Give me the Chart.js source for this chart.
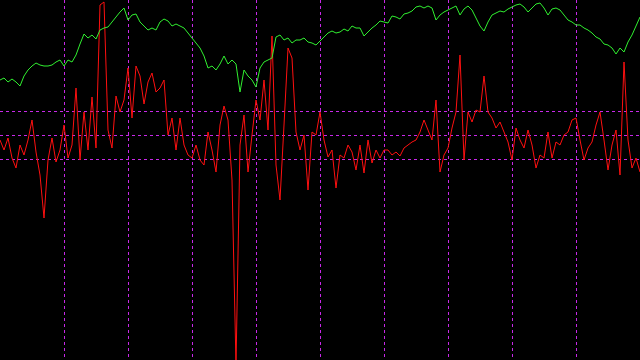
<!DOCTYPE html>
<html>
<head>
<meta charset="utf-8">
<script src="https://cdn.jsdelivr.net/npm/chart.js@4"></script>
<style>
  html, body { margin: 0; padding: 0; background: #000; }
  #wrap { width: 640px; height: 360px; }
</style>
</head>
<body>
<div id="wrap"><canvas id="chartOsc" width="640" height="360"></canvas></div>
<script>
// oscillator (red), one value per bar
const oscValues = [
  -5, -15, -3, -23, -33, -10, -20, -5, 15, -17,
  -40, -83, -25, -3, -27, -15, 10, -23, -10, 47,
  -25, 23, -15, 38, -13, 130, 133, 5, -13, 39,
  23, 35, 67, 17, 69, 59, 31, 53, 62, 43,
  47, 55, 0, 17, -15, 17, -10, -20, -23, -10,
  -25, -30, 3, -15, -37, 10, 29, 15, -45, -230,
  -10, 20, -37, 0, 35, 15, 55, 5, 99, -30,
  -65, 10, 87, 77, 3, -15, 0, -55, 3, 0,
  23, -5, -22, -15, -53, -20, -23, -10, -17, -35,
  -10, -38, -5, -28, -15, -23, -15, -15, -20, -17,
  -21, -13, -10, -7, -5, 3, 15, 5, -5, 35,
  -37, -20, -13, 7, 23, 80, -25, 23, 13, 25,
  23, 59, 23, 17, 7, 13, 3, -7, -25, 7,
  -5, -13, 5, -10, -33, -20, -23, 3, -23, -7,
  -10, 0, 3, 15, 17, -5, -25, -13, -7, 10,
  23, -5, -35, -10, 5, -40, 73, -5, -33, -23,
  -37
];

// price (green), same bars
const priceValues = [
  1020, 1022, 1018, 1021, 1018, 1014, 1024, 1030, 1034, 1037,
  1035, 1034, 1034, 1035, 1038, 1040, 1034, 1040, 1038, 1045,
  1056, 1066, 1062, 1065, 1061, 1070, 1072, 1073, 1078, 1083,
  1088, 1092, 1080, 1085, 1086, 1078, 1074, 1070, 1072, 1070,
  1078, 1081, 1079, 1074, 1076, 1074, 1072, 1067, 1062, 1057,
  1052, 1044, 1032, 1034, 1030, 1036, 1044, 1036, 1040, 1036,
  1008, 1030, 1024, 1020, 1013, 1032, 1038, 1040, 1042, 1063,
  1065, 1060, 1062, 1057, 1060, 1060, 1062, 1058, 1057, 1055,
  1059, 1063, 1067, 1069, 1067, 1068, 1071, 1069, 1074, 1072,
  1072, 1064, 1068, 1072, 1075, 1079, 1078, 1077, 1084, 1083,
  1081, 1086, 1087, 1089, 1093, 1094, 1092, 1094, 1092, 1080,
  1085, 1088, 1090, 1092, 1094, 1085, 1091, 1094, 1090, 1082,
  1074, 1069, 1078, 1085, 1087, 1089, 1088, 1091, 1093, 1095,
  1096, 1093, 1088, 1092, 1096, 1097, 1092, 1085, 1091, 1092,
  1090, 1085, 1080, 1078, 1075, 1075, 1072, 1070, 1067, 1063,
  1061, 1056, 1055, 1052, 1046, 1052, 1048, 1058, 1065, 1074,
  1083
];

const levelTicks = [-24, 0, 24];
const barStep = 16;

const gridColor = '#c828e8';

function toPoints(arr) {
  return arr.map((v, i) => ({ x: i, y: v }));
}

const lastBar = oscValues.length - 1;
const ctx = document.getElementById('chartOsc').getContext('2d');

new Chart(ctx, {
  type: 'line',
  data: {
    datasets: [
      { label: 'Price', data: toPoints(priceValues), yAxisID: 'yPrice', borderColor: '#30f030', borderWidth: 1, pointRadius: 0, tension: 0 },
      { label: 'Osc', data: toPoints(oscValues), yAxisID: 'y', borderColor: '#ff1010', borderWidth: 1, pointRadius: 0, tension: 0 }
    ]
  },
  plugins: [{
    id: 'bg',
    beforeDraw(chart) {
      const c = chart.ctx;
      c.save();
      c.fillStyle = '#000';
      c.fillRect(0, 0, chart.width, chart.height);
      c.restore();
    }
  }],
  options: {
    responsive: false,
    animation: false,
    devicePixelRatio: 1,
    layout: { padding: 0 },
    plugins: { legend: { display: false }, tooltip: { enabled: false } },
    scales: {
      x: {
        type: 'linear', min: 0, max: lastBar,
        ticks: { display: false, stepSize: barStep },
        border: { display: false, dash: [3, 3] },
        grid: { drawTicks: false, color: gridColor },
        afterBuildTicks: s => { s.ticks = s.ticks.filter(t => t.value > 0 && t.value < lastBar); }
      },
      y: {
        min: -225, max: 135,
        ticks: { display: false },
        border: { display: false, dash: [3, 3] },
        grid: { drawTicks: false, color: gridColor },
        afterBuildTicks: s => { s.ticks = levelTicks.map(v => ({ value: v })); }
      },
      yPrice: {
        display: false, min: 740, max: 1100
      }
    }
  }
});
</script>
</body>
</html>
